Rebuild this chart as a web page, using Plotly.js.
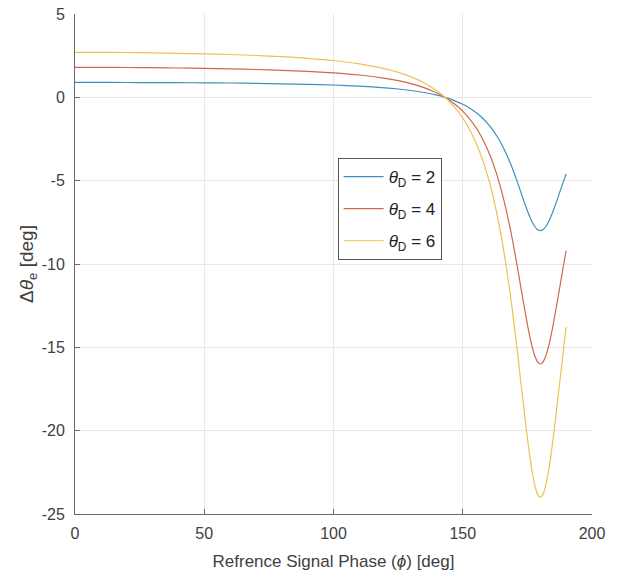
<!DOCTYPE html>
<html>
<head>
<meta charset="utf-8">
<script src="https://cdn.plot.ly/plotly-3.0.1.min.js"></script>
<style>html,body{margin:0;padding:0;background:#fff;}#chart{width:617px;height:581px;}</style>
</head>
<body>
<div id="chart"></div>
<script>
// Reference signal phase (deg)
const phase = [0,10,20,30,40,50,60,70,80,90,100,110,120,125,130,135,140,142,145,147,150,152,155,157,158,160,161,162,163,164,165,166,167,168,169,170,171,172,173,174,175,176,177,178,179,180,181,182,183,184,185,186,187,188,189,190];
// Delta theta_e (deg) for theta_D = 2
const errD2 = [0.9,0.9,0.89,0.88,0.88,0.87,0.86,0.84,0.81,0.78,0.74,0.67,0.57,0.50,0.41,0.29,0.13,0.05,-0.09,-0.21,-0.42,-0.58,-0.90,-1.15,-1.30,-1.64,-1.83,-2.04,-2.28,-2.53,-2.81,-3.11,-3.44,-3.80,-4.18,-4.60,-5.03,-5.48,-5.93,-6.38,-6.81,-7.20,-7.53,-7.78,-7.95,-8.00,-7.95,-7.78,-7.53,-7.20,-6.81,-6.38,-5.93,-5.48,-5.03,-4.60];
// theta_D = 4
const errD4 = [1.8,1.8,1.79,1.78,1.76,1.74,1.71,1.67,1.62,1.56,1.47,1.34,1.14,1.00,0.82,0.58,0.26,0.10,-0.19,-0.42,-0.83,-1.17,-1.79,-2.31,-2.60,-3.28,-3.66,-4.09,-4.55,-5.06,-5.62,-6.23,-6.89,-7.60,-8.37,-9.20,-10.06,-10.97,-11.87,-12.76,-13.62,-14.40,-15.06,-15.57,-15.89,-16.00,-15.89,-15.57,-15.06,-14.40,-13.62,-12.76,-11.87,-10.97,-10.06,-9.20];
// theta_D = 6
const errD6 = [2.7,2.7,2.69,2.67,2.64,2.61,2.57,2.51,2.44,2.34,2.21,2.01,1.71,1.50,1.23,0.88,0.39,0.15,-0.28,-0.62,-1.25,-1.75,-2.69,-3.46,-3.90,-4.91,-5.49,-6.13,-6.83,-7.59,-8.42,-9.34,-10.33,-11.41,-12.55,-13.79,-15.09,-16.45,-17.80,-19.13,-20.43,-21.60,-22.60,-23.35,-23.84,-24.00,-23.84,-23.35,-22.60,-21.60,-20.43,-19.13,-17.80,-16.45,-15.09,-13.79];
const seriesNames = ['<i>θ</i><sub>D</sub> = 2','<i>θ</i><sub>D</sub> = 4','<i>θ</i><sub>D</sub> = 6'];
const xTickVals = [0,50,100,150,200];
const xTickText = ['0','50','100','150','200'];
const yTickVals = [5,0,-5,-10,-15,-20,-25];
const yTickText = ['5','0','-5','-10','-15','-20','-25'];

const colors = ['#3f8fbf','#cc6a48','#eec155'];
const ys = [errD2, errD4, errD6];
const traces = ys.map((y,i)=>({
  x: phase, y: y, type:'scatter', mode:'lines', name: seriesNames[i],
  legendgroup:'g'+i,
  line:{color:colors[i], width:1.2, shape:'spline', smoothing:0.5}
}));

const fontFam = 'Liberation Sans, Arial, sans-serif';
const axisCommon = {
  showline:true, linecolor:'#6a6a6a', linewidth:1,
  ticks:'inside', ticklen:5, tickcolor:'#6a6a6a',
  showgrid:true, gridcolor:'#e8e8e8', gridwidth:1, zeroline:false,
  tickfont:{family:fontFam, size:16, color:'#404040'},
  mirror:false
};

const layout = {
  width:617, height:581,
  margin:{l:75, r:25, t:14, b:67},
  paper_bgcolor:'#fff', plot_bgcolor:'#fff',
  showlegend:true,
  xaxis: Object.assign({}, axisCommon, {
    range:[0,200], tickmode:'array', tickvals:xTickVals, ticktext:xTickText,
    ticklabelstandoff:5,
    title:{text:'Refrence Signal Phase (<i>ϕ</i>) [deg]', standoff:13,
      font:{family:fontFam, size:17, color:'#404040'}}
  }),
  yaxis: Object.assign({}, axisCommon, {
    range:[-25,5], tickmode:'array', tickvals:yTickVals, ticktext:yTickText,
    ticklabelstandoff:6,
    title:{text:'Δ<i>θ</i><sub>e</sub> [deg]', standoff:3,
      font:{family:fontFam, size:19, color:'#404040'}}
  }),
  legend:{
    x:0.508, y:0.712, xanchor:'left', yanchor:'top',
    bgcolor:'#fff', bordercolor:'#555', borderwidth:1,
    font:{family:fontFam, size:17, color:'#222'},
    tracegroupgap:7, itemwidth:40
  }
};

Plotly.newPlot('chart', traces, layout, {displayModeBar:false, staticPlot:true});
</script>
</body>
</html>
